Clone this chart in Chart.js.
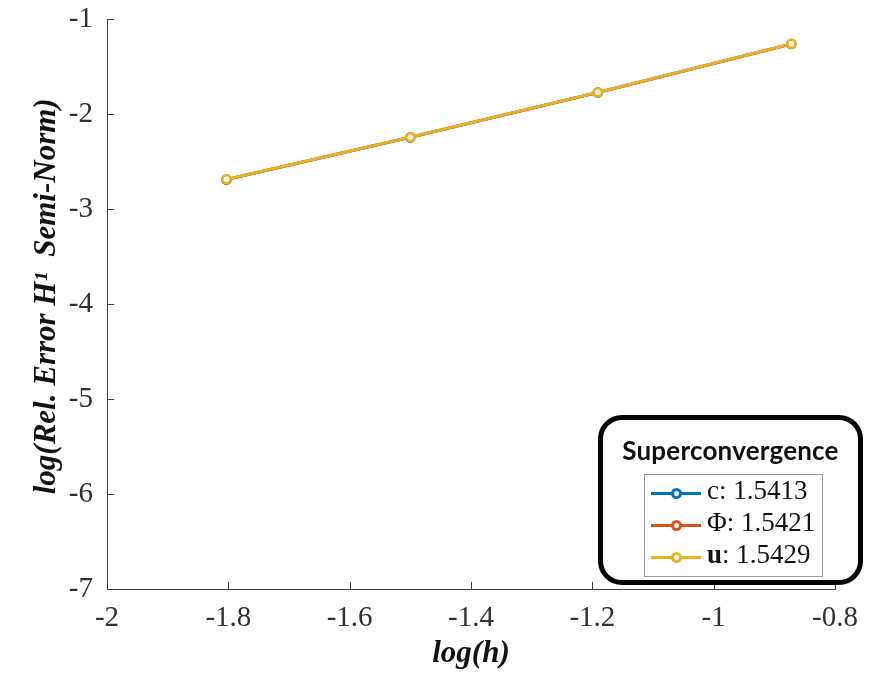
<!DOCTYPE html>
<html>
<head>
<meta charset="utf-8">
<script src="https://cdn.jsdelivr.net/npm/chart.js@4.4.1/dist/chart.umd.min.js"></script>
<style>
    body { margin: 0; background: #fff; }
    #wrap { position: relative; width: 887px; height: 675px; }
    #errChart { position: absolute; left: 0; top: 0; }
    #legendBox {
        position: absolute; left: 598px; top: 415px; width: 265px; height: 170px;
        box-sizing: border-box; border: 5px solid #000; border-radius: 24px; background: #fff;
    }
    #legendTitle {
        position: absolute; left: 0; right: 0; top: 14px; text-align: center;
        font: bold 26px Lato, "Open Sans", sans-serif; letter-spacing: 0.2px; color: #111;
    }
    #legendInner {
        position: absolute; left: 41px; top: 54px; width: 179px; height: 103px;
        box-sizing: border-box; border: 1px solid #9a9a9a; background: #fff;
    }
    .row { position: absolute; left: 6px; height: 30px; width: 170px; }
    .swatch { position: absolute; left: 0; top: 14px; width: 50px; height: 3px; }
    .dot {
        position: absolute; left: 20px; top: 10px; width: 5px; height: 5px;
        border: 3px solid; border-radius: 50%; background: #fff;
    }
    .lbl {
        position: absolute; left: 56px; top: -3px; white-space: nowrap;
        font: 27px "Liberation Serif", serif; color: #111;
    }
</style>
</head>
<body>
<div id="wrap">
    <canvas id="errChart" width="887" height="675"></canvas>
    <div id="legendBox">
        <div id="legendTitle">Superconvergence</div>
        <div id="legendInner"></div>
    </div>
</div>
<script>
// values
const logH = [-1.803, -1.500, -1.191, -0.872];
const errC = [-2.690, -2.246, -1.774, -1.263];
const errPhi = [-2.688, -2.244, -1.772, -1.261];
const errU = [-2.687, -2.243, -1.771, -1.260];
const seriesNames = ["c", "\u03A6", "u"];
const rates = ["1.5413", "1.5421", "1.5429"];
const seriesColors = ["#0072BD", "#D95319", "#EDB120"];
const xTicks = [-2, -1.8, -1.6, -1.4, -1.2, -1, -0.8];
const yTicks = [-7, -6, -5, -4, -3, -2, -1];

function toPoints(ys) {
    return logH.map((x, i) => ({ x: x, y: ys[i] }));
}

let allSeries = [errC, errPhi, errU];
let datasets = allSeries.map((ys, i) => ({
    label: seriesNames[i] + ": " + rates[i],
    data: toPoints(ys),
    showLine: true,
    borderColor: seriesColors[i],
    backgroundColor: seriesColors[i],
    borderWidth: 2.8,
    pointRadius: 4,
    pointBorderWidth: 2.5,
    pointBackgroundColor: "#fff",
    pointBorderColor: seriesColors[i],
    order: allSeries.length - i // u drawn on top
}));

// MATLAB-style ticks pointing into the plot
const innerTicks = {
    id: "innerTicks",
    afterDatasetsDraw(chart) {
        let ctx = chart.ctx;
        let area = chart.chartArea;
        ctx.save();
        ctx.strokeStyle = "#404040";
        ctx.lineWidth = 1;
        chart.scales.x.ticks.forEach(t => {
            let px = Math.round(chart.scales.x.getPixelForValue(t.value)) + 0.5;
            ctx.beginPath();
            ctx.moveTo(px, area.bottom);
            ctx.lineTo(px, area.bottom - 7);
            ctx.stroke();
        });
        chart.scales.y.ticks.forEach(t => {
            let py = Math.round(chart.scales.y.getPixelForValue(t.value)) + 0.5;
            ctx.beginPath();
            ctx.moveTo(area.left, py);
            ctx.lineTo(area.left + 7, py);
            ctx.stroke();
        });
        ctx.restore();
    }
};

let tickFont = { family: "'Liberation Serif', serif", size: 29 };
// small line height keeps the top label from pushing the plot area down
let yTickFont = { family: "'Liberation Serif', serif", size: 29, lineHeight: 0.35 };
let titleFont = { family: "'Liberation Serif', serif", size: 31, weight: "bold", style: "italic", lineHeight: 1.2 };

let errChart = new Chart(document.getElementById("errChart"), {
    type: "scatter",
    data: { datasets: datasets },
    options: {
        responsive: false,
        animation: false,
        layout: { padding: { top: 19, right: 52, left: 0, bottom: 0 } },
        plugins: { legend: { display: false }, tooltip: { enabled: false } },
        scales: {
            x: {
                type: "linear",
                min: -2, max: -0.8,
                afterBuildTicks: axis => { axis.ticks = xTicks.map(v => ({ value: v })); },
                afterFit: axis => { axis.height = 86; },
                grid: { display: true, drawOnChartArea: false, drawTicks: false },
                border: { display: true, color: "#404040", width: 1 },
                ticks: {
                    color: "#303030", font: tickFont, padding: 12,
                    callback: v => String(Number(v.toFixed(1)))
                },
                title: { display: true, text: "log(h)", color: "#111", font: titleFont, padding: { top: 0, bottom: 2 } }
            },
            y: {
                type: "linear",
                min: -7, max: -1,
                afterBuildTicks: axis => { axis.ticks = yTicks.map(v => ({ value: v })); },
                afterFit: axis => { axis.width = 107; },
                grid: { display: true, drawOnChartArea: false, drawTicks: false },
                border: { display: true, color: "#404040", width: 1 },
                ticks: { color: "#303030", font: yTickFont, padding: 14 },
                title: { display: true, text: "  log(Rel. Error H\u00B9  Semi-Norm)", color: "#111", font: titleFont, padding: { top: 28, bottom: 0 } }
            }
        }
    },
    plugins: [innerTicks]
});

// legend inside the rounded box, built from the datasets
function buildLegend() {
    let inner = document.getElementById("legendInner");
    errChart.data.datasets.forEach((ds, i) => {
        let row = document.createElement("div");
        row.className = "row";
        row.style.top = (3 + i * 32) + "px";
        let name = seriesNames[i] === "u" ? "<b>u</b>" : seriesNames[i];
        row.innerHTML = `
            <div class="swatch" style="background:${ds.borderColor}"></div>
            <div class="dot" style="border-color:${ds.borderColor}"></div>
            <div class="lbl">${name}: ${rates[i]}</div>
        `;
        inner.appendChild(row);
    });
}
buildLegend();
</script>
</body>
</html>
